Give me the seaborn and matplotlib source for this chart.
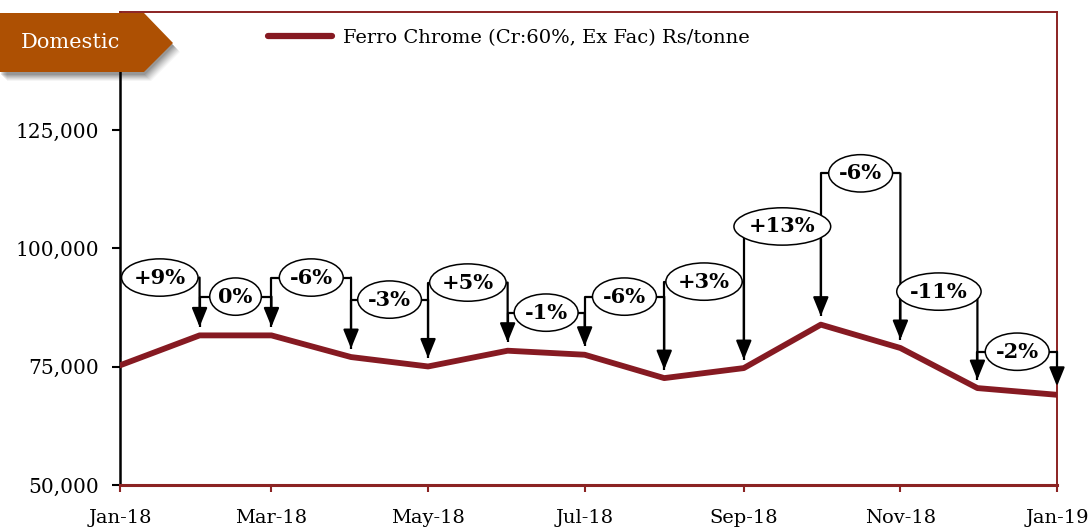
import matplotlib
matplotlib.use("Agg")
import matplotlib.pyplot as plt
import matplotlib.dates as mdates
from matplotlib.patches import Polygon
from matplotlib.path import Path
from matplotlib.transforms import Affine2D
from matplotlib.ticker import FuncFormatter
import seaborn as sns
import pandas as pd
import numpy as np

# ---- data ----
months = ["2018-01", "2018-02", "2018-03", "2018-04", "2018-05", "2018-06", "2018-07",
          "2018-08", "2018-09", "2018-10", "2018-11", "2018-12", "2019-01"]
prices = [75300, 81630, 81630, 77050, 75060, 78390, 77540,
          72600, 74720, 83900, 78960, 70490, 69070]
change_labels = ["+9%", "0%", "-6%", "-3%", "+5%", "-1%", "-6%",
                 "+3%", "+13%", "-6%", "-11%", "-2%"]
bracket_levels = [93860, 89830, 93860, 89200, 92800, 86440, 89830,
                  93000, 104660, 115890, 90890, 78180]
y_ticks = [50000, 75000, 100000, 125000]
series_name = "Ferro Chrome (Cr:60%, Ex Fac) Rs/tonne"
banner_text = "Domestic"

RED = "#861a22"
SPINE_RED = "#8b2323"
ORANGE = "#ad5003"

sns.set_theme(style="white")
plt.rcParams["font.family"] = ["DejaVu Serif", "DejaVu Sans"]
plt.rcParams["text.color"] = "black"
plt.rcParams["xtick.labelcolor"] = "black"
plt.rcParams["ytick.labelcolor"] = "black"

W, H = 1089, 529
fig = plt.figure(figsize=(W / 100, H / 100), dpi=100)
ax = fig.add_axes([120 / W, 1 - 485 / H, (1057 - 120) / W, (485 - 12) / H])

df = pd.DataFrame({"date": pd.to_datetime(months), "price": prices})
sns.lineplot(data=df, x="date", y="price", color=RED, lw=4.2, ax=ax,
             label=series_name, zorder=3)


def tall_ellipse(x0, y0, width, height, mutation_size):
    pad = mutation_size * 0.06
    w = width + 2 * pad
    h = height + 2 * pad
    cx = x0 + width / 2
    cy = y0 + height / 2
    a = w / 2 * 1.40
    b = h / 2 * 1.66
    return Affine2D().scale(a, b).translate(cx, cy).transform_path(Path.unit_circle())


xs = mdates.date2num(df["date"])
gap = 1800
for i in range(len(change_labels)):
    x0, x1 = xs[i], xs[i + 1]
    lvl = bracket_levels[i]
    ax.plot([x0, x0, x1], [prices[i] + gap, lvl, lvl], color="black", lw=1.6,
            solid_capstyle="butt", zorder=4)
    ax.annotate("", xy=(x1, prices[i + 1] + gap), xytext=(x1, lvl),
                arrowprops=dict(arrowstyle="-|>,head_length=1.15,head_width=0.47",
                                color="black", lw=1.6, shrinkA=0, shrinkB=0,
                                mutation_scale=10), zorder=4)
    ax.text((x0 + x1) / 2, lvl, change_labels[i], ha="center", va="center",
            fontsize=15, fontweight="bold", color="black", zorder=6,
            bbox=dict(boxstyle=tall_ellipse, fc="white", ec="black", lw=1.1))

ax.set_xlim(xs[0], xs[-1])
ax.set_ylim(50000, 150000)
ax.set_yticks(y_ticks)
ax.yaxis.set_major_formatter(FuncFormatter(lambda v, p: f"{int(v):,}"))
ax.xaxis.set_major_locator(mdates.MonthLocator(bymonth=[1, 3, 5, 7, 9, 11]))
ax.xaxis.set_major_formatter(mdates.DateFormatter("%b-%y"))
ax.set_xlabel("")
ax.set_ylabel("")

ax.tick_params(axis="y", direction="out", length=6, width=1.5, color="black",
               labelsize=14.5, pad=9, left=True, labelcolor="black")
ax.tick_params(axis="x", direction="out", length=5, width=1.5, color=SPINE_RED,
               labelsize=14, pad=12, bottom=True, labelcolor="black")

ax.spines["left"].set_color("black")
ax.spines["left"].set_linewidth(1.8)
ax.spines["bottom"].set_color(SPINE_RED)
ax.spines["bottom"].set_linewidth(2.2)
ax.spines["top"].set_color(SPINE_RED)
ax.spines["top"].set_linewidth(1.4)
ax.spines["right"].set_color(SPINE_RED)
ax.spines["right"].set_linewidth(1.4)
ax.grid(False)

leg = ax.legend(loc="center left", bbox_to_anchor=(268 / W, 1 - 38 / H),
                bbox_transform=fig.transFigure, frameon=False, fontsize=14,
                handlelength=3.3, handletextpad=0.55, borderpad=0, borderaxespad=0)
for ln in leg.get_lines():
    ln.set_linewidth(4.5)
for t in leg.get_texts():
    t.set_color("black")

# ---- banner ----
def fig_pts(pts, dx=0, dy=0):
    return [((x + dx) / W, 1 - (y + dy) / H) for x, y in pts]

banner = [(0, 13), (144, 13), (173, 43), (144, 72), (0, 72)]
for k, a in [(9, 0.04), (8, 0.05), (7, 0.06), (6, 0.07), (5, 0.08), (4, 0.09), (3, 0.1)]:
    fig.add_artist(Polygon(fig_pts(banner, k - 2, k), closed=True, transform=fig.transFigure,
                           fc="black", ec="none", alpha=a, zorder=9))
fig.add_artist(Polygon(fig_pts(banner), closed=True, transform=fig.transFigure,
                       fc=ORANGE, ec="none", zorder=10))
fig.text(70 / W, 1 - 43 / H, banner_text, ha="center", va="center", color="white",
         fontsize=15, zorder=11)

fig.savefig("out.png", dpi=100)
